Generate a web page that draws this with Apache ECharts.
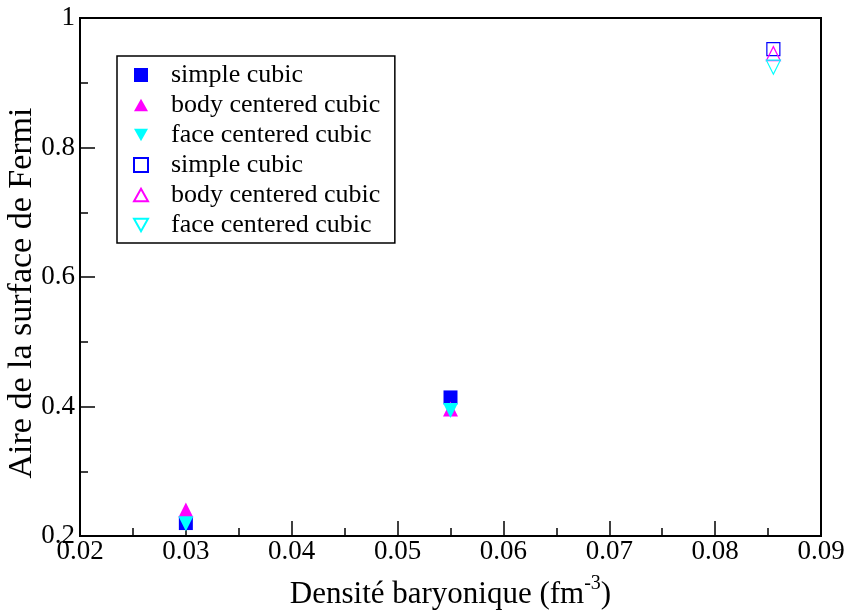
<!DOCTYPE html>
<html>
<head>
<meta charset="utf-8">
<script src="https://cdn.jsdelivr.net/npm/echarts@6/dist/echarts.min.js"></script>
<style>html,body{margin:0;padding:0;background:#fff}#c{width:846px;height:611px}</style>
</head>
<body>
<div id="c"></div>
<script>
// Data
var seriesNames = ['simple cubic', 'body centered cubic', 'face centered cubic', 'simple cubic', 'body centered cubic', 'face centered cubic'];
var scFilled  = [[0.03, 0.220], [0.055, 0.414]];
var bccFilled = [[0.03, 0.240], [0.055, 0.396]];
var fccFilled = [[0.03, 0.219], [0.055, 0.394]];
var scOpen    = [[0.0855, 0.952]];
var bccOpen   = [[0.0855, 0.945]];
var fccOpen   = [[0.0855, 0.924]];
var xTicks = [0.02, 0.03, 0.04, 0.05, 0.06, 0.07, 0.08, 0.09];
var yTicks = [0.2, 0.4, 0.6, 0.8, 1];

var FONT = 'Liberation Serif';
var BLUE = '#0000ff', MAG = '#ff00ff', CYAN = '#00ffff';
var downTri = 'path://M0,0 L10,0 L5,9 Z';
var upTri = 'path://M5,0 L10,9 L0,9 Z';

function mk(name, data, symbol, color, filled, size) {
  return {
    name: name, type: 'scatter', data: data, symbol: symbol, symbolSize: size,
    itemStyle: filled ? {color: color, borderColor: color, borderWidth: 0, opacity: 1}
                      : {color: 'rgba(255,255,255,0)', borderColor: color, borderWidth: 1.2, opacity: 1},
    emphasis: {disabled: true}, z: 3
  };
}

var chart = echarts.init(document.getElementById('c'), null, {renderer: 'canvas'});
chart.setOption({
  animation: false,
  backgroundColor: '#fff',
  grid: {left: 80, right: 25, top: 18, bottom: 75, containLabel: false, outerBoundsMode: 'none',
         show: true, borderColor: '#000', borderWidth: 2, backgroundColor: 'transparent'},
  xAxis: {
    type: 'value', min: 0.02, max: 0.09, interval: 0.01,
    axisLine: {show: true, lineStyle: {color: '#000', width: 2}},
    axisTick: {show: true, inside: true, length: 15, lineStyle: {color: '#000', width: 1.5}},
    minorTick: {show: true, splitNumber: 2, length: 8, lineStyle: {color: '#000', width: 1.5}},
    splitLine: {show: false},
    axisLabel: {color: '#000', fontFamily: FONT, fontSize: 27, margin: 2,
      formatter: function (v) { return v.toFixed(2); }},
    name: '{a|Densité baryonique (fm}{s|-3}{a|)}', nameLocation: 'middle', nameGap: 38,
    nameTextStyle: {rich: {a: {fontFamily: FONT, fontSize: 31, color: '#000', verticalAlign: 'bottom', lineHeight: 36},
                           s: {fontFamily: FONT, fontSize: 20, color: '#000', verticalAlign: 'top', lineHeight: 36, padding: [0, 0, 16, 0]}}}
  },
  yAxis: {
    type: 'value', min: 0.2, max: 1, interval: 0.2,
    axisLine: {show: true, lineStyle: {color: '#000', width: 2}},
    axisTick: {show: true, inside: true, length: 15, lineStyle: {color: '#000', width: 1.5}},
    minorTick: {show: true, splitNumber: 2, length: 8, lineStyle: {color: '#000', width: 1.5}},
    splitLine: {show: false},
    axisLabel: {color: '#000', fontFamily: FONT, fontSize: 27, margin: 5,
      formatter: function (v) { return (Math.abs(v - 1) < 1e-9) ? '1' : v.toFixed(1); }},
    name: 'Aire de la surface de Fermi', nameLocation: 'middle', nameGap: 41, nameRotate: 90,
    nameMoveOverlap: false,
    nameTextStyle: {fontFamily: FONT, fontSize: 34, color: '#000', padding: [0, 32, 0, 0]}
  },
  legend: {
    orient: 'vertical', left: 117, top: 56,
    padding: [6, 8, 5, 16], itemGap: 4, itemWidth: 14, itemHeight: 14,
    borderColor: '#000', borderWidth: 1.5, backgroundColor: '#fff',
    selectedMode: false,
    textStyle: {fontFamily: FONT, fontSize: 26, color: '#000', padding: [0, 0, 0, 18], lineHeight: 24},
    data: [
      {name: seriesNames[0], icon: 'rect'},
      {name: seriesNames[1], icon: upTri},
      {name: seriesNames[2], icon: downTri},
      {name: seriesNames[3] + ' ', icon: 'rect'},
      {name: seriesNames[4] + ' ', icon: upTri},
      {name: seriesNames[5] + ' ', icon: downTri}
    ]
  },
  series: [
    mk(seriesNames[0], scFilled, 'rect', BLUE, true, 14),
    mk(seriesNames[1], bccFilled, upTri, MAG, true, 15),
    mk(seriesNames[2], fccFilled, downTri, CYAN, true, 15),
    mk(seriesNames[3] + ' ', scOpen, 'rect', BLUE, false, 13),
    mk(seriesNames[4] + ' ', bccOpen, upTri, MAG, false, 14),
    mk(seriesNames[5] + ' ', fccOpen, downTri, CYAN, false, 14)
  ]
});
</script>
</body>
</html>
